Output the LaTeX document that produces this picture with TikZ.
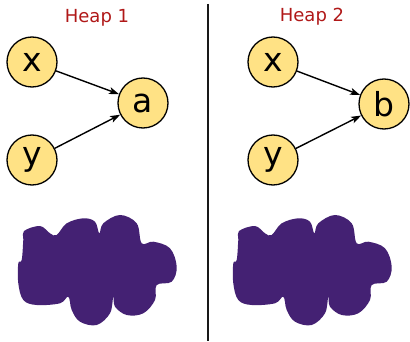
\documentclass[tikz,border=0pt]{standalone}
\usepackage{fontspec}
\setmainfont{DejaVu Sans}
\usetikzlibrary{arrows.meta}
\definecolor{nodefill}{HTML}{FFE285}
\definecolor{blobcol}{HTML}{442173}
\definecolor{heapred}{HTML}{B01818}
\tikzset{
  var/.style={circle, draw=black, line width=1.3pt, fill=nodefill, minimum size=50pt, inner sep=0pt, font=\fontsize{33}{33}\selectfont},
  link/.style={-{Stealth[length=10pt,width=7pt,inset=2.5pt]}, line width=1.4pt},
  heaplabel/.style={text=heapred, font=\fontsize{18}{18}\selectfont},
  blob/.style={fill=blobcol, draw=none}
}
\begin{document}
\begin{tikzpicture}[x=1pt,y=-1pt]
\useasboundingbox (0,0) rectangle (410,342);
% divider
\coordinate (dtop) at (208,4);
\coordinate (dbot) at (208,341);
\draw[line width=1.5pt, color=black!90] (dtop) -- (dbot);
% heap 1
\node[heaplabel] (h1) at (97,18) {Heap 1};
\node[var] (x1) at (32,62) {x};
\node[var] (y1) at (32,160) {y};
\node[var] (a) at (143,103) {a};
\draw[link] (x1) -- (a);
\draw[link] (y1) -- (a);
% heap 2
\node[heaplabel] (h2) at (312,17) {Heap 2};
\node[var] (x2) at (273,62) {x};
\node[var] (y2) at (273,160) {y};
\node[var] (b) at (384,104) {b};
\draw[link] (x2) -- (b);
\draw[link] (y2) -- (b);
% blobs
\foreach \dx in {0,215}{
\begin{scope}[xshift=\dx]
\fill[blob] plot[smooth cycle, tension=0.6] coordinates {
(23.3,240) (24,231) (40,226) (50,233.3) (56.7,235) (66.7,223.3) (83.3,218.3) (95,221.7) (99.3,233.3)
(103.3,223.3) (120,215) (136.7,223.3) (141.7,243.3) (153.3,241.7) (170,248.3) (176.7,266.7)
(171.7,281.7) (156.7,285) (155,300) (143.3,313.3) (126.7,315) (115,306.7) (113.3,296.7)
(110,313.3) (96.7,325) (80,321.7) (71.7,310) (68.3,296.7) (60,303.3) (36.7,305) (23.3,300)
(18.3,283.3) (18.3,263.3) (21.7,260)};
\end{scope}}
\end{tikzpicture}
\end{document}
